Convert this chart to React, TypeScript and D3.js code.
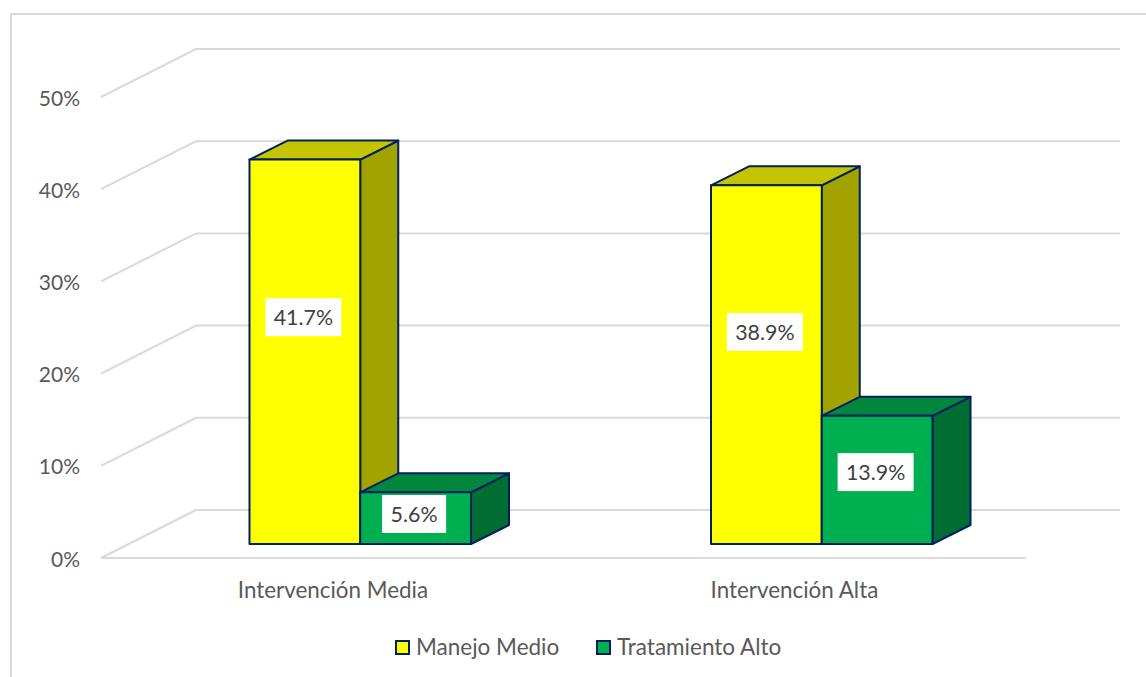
import React from "react";
import * as d3 from "d3";

const categories = ["Intervención Media", "Intervención Alta"];
const seriesNames = ["Manejo Medio", "Tratamiento Alto"];
const manejoMedio = [41.7, 38.9];
const tratamientoAlto = [5.6, 13.9];
const labelLevels = [[24.6, 23.0], [3.26, 7.8]];
const tickValues = [0, 10, 20, 30, 40, 50];
const seriesValues = [manejoMedio, tratamientoAlto];

const faces = [
  { front: "#FFFF00", top: "#C4C400", side: "#A3A300" },
  { front: "#00B050", top: "#00863D", side: "#006E32" },
];
const NAVY = "#002060";
const GRID = "#D9D9D9";
const FONT = "Lato, Carlito, sans-serif";

const W = 1146, H = 677;
const plotLeft = 101, plotRight = 1026;
const x0 = d3.scaleBand<string>().domain(categories).range([plotLeft, 1024]);
const y = d3.scaleLinear().domain([0, 50]).range([558, 97]);
const wallDx = 95, wallDy = -48;
const barInsetDx = 28.5, barInsetDy = -14;
const depthDx = 38, depthDy = -19;
const barW = x0.step() * 0.24;
const x1 = d3.scaleBand<number>().domain([0, 1]).range([-barW, barW]);

const poly = (pts: [number, number][]) => d3.line()(pts) + "Z";

export default function App() {
  return (
    <svg width={W} height={H} viewBox={`0 0 ${W} ${H}`} style={{ position: "absolute", left: 0, top: 0, background: "#fff", fontFamily: FONT }}>
      <path d={`M11,${H}V14H${W}`} fill="none" stroke={GRID} strokeWidth={2} />
      {tickValues.map((t) => (
        <g key={t}>
          <path
            d={d3.line()([
              [plotLeft, y(t)],
              [plotLeft + wallDx, y(t) + wallDy],
              ...(t === 0 ? [] : ([[plotRight + wallDx - 1, y(t) + wallDy]] as [number, number][])),
            ]) as string}
            fill="none"
            stroke={GRID}
            strokeWidth={2}
          />
          {t === 0 && (
            <>
              <path d={`M${plotLeft},${y(0)}H${plotRight}`} stroke={GRID} strokeWidth={2} />
              <path d={`M${plotLeft + wallDx},${y(0) + wallDy}H${plotRight + wallDx - 1}`} stroke={GRID} strokeWidth={2} />
            </>
          )}
          <text x={80} y={y(t)} textAnchor="end" dominantBaseline="central" fontSize={21} fill="#595959">
            {t}%
          </text>
        </g>
      ))}
      {categories.map((c, ci) => {
        const cx = (x0(c) as number) + x0.bandwidth() / 2 + barInsetDx;
        const base = y(0) + barInsetDy;
        const py = (v: number) => y(v) + barInsetDy;
        return (
          <g key={c}>
            {seriesValues.map((vals, si) => {
              const l = cx + (x1(si) as number);
              const r = l + x1.bandwidth();
              const t = py(vals[ci]);
              const f = faces[si];
              return (
                <g key={si} stroke={NAVY} strokeWidth={2} strokeLinejoin="round">
                  <path d={poly([[r, t], [r + depthDx, t + depthDy], [r + depthDx, base + depthDy], [r, base]])} fill={f.side} />
                  <path d={poly([[l, t], [l + depthDx, t + depthDy], [r + depthDx, t + depthDy], [r, t]])} fill={f.top} />
                  <rect x={l} y={t} width={r - l} height={base - t} fill={f.front} />
                </g>
              );
            })}
            <text x={x0(c)! + x0.bandwidth() / 2 + 1.2} y={589.5} textAnchor="middle" dominantBaseline="central" fontSize={22.4} fill="#595959">
              {c}
            </text>
          </g>
        );
      })}
      {categories.map((c, ci) => {
        const cx = (x0(c) as number) + x0.bandwidth() / 2 + barInsetDx;
        return seriesValues.map((vals, si) => {
          const mid = cx + (x1(si) as number) + x1.bandwidth() / 2 - 1.5;
          const ly = y(labelLevels[si][ci]) + barInsetDy;
          const narrow = si === 1 && ci === 0;
          const bw = narrow ? 64 : 76;
          return (
            <g key={`${c}${si}`}>
              <rect x={mid - bw / 2} y={ly - 19} width={bw} height={38} fill="#fff" />
              <text x={mid} y={ly} textAnchor="middle" dominantBaseline="central" fontSize={21.4} fill="#404040">
                {vals[ci].toFixed(1)}%
              </text>
            </g>
          );
        });
      })}
      {seriesNames.map((n, i) => {
        const sx = i === 0 ? 396 : 597;
        return (
          <g key={n}>
            <rect x={sx} y={641} width={13} height={13} fill={faces[i].front} stroke={NAVY} strokeWidth={2} />
            <text x={sx + 20} y={646} dominantBaseline="central" fontSize={22.5} fill="#595959">
              {n}
            </text>
          </g>
        );
      })}
    </svg>
  );
}
